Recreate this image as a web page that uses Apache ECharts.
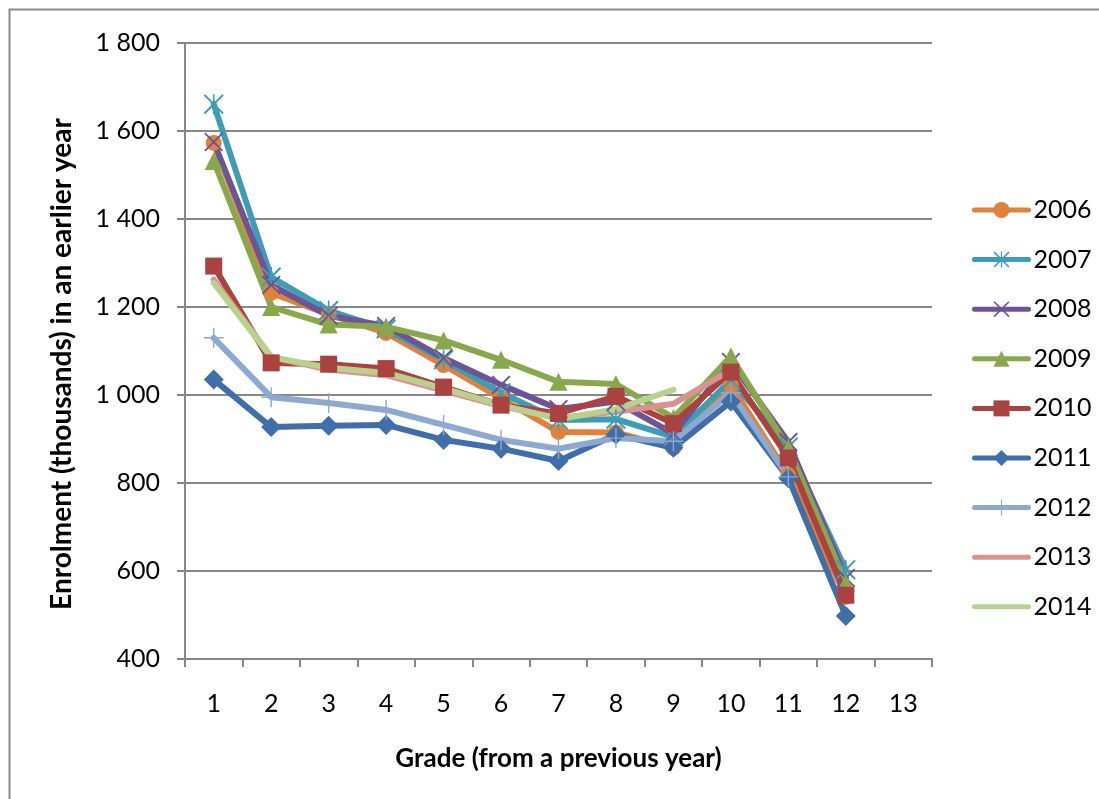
<!DOCTYPE html>
<html>
<head>
<meta charset="utf-8">
<title>Enrolment by grade</title>
<script src="https://cdn.jsdelivr.net/npm/echarts@6/dist/echarts.min.js"></script>
<style>
  html, body { margin: 0; padding: 0; background: #ffffff; }
  #chart { width: 1099px; height: 799px; }
</style>
</head>
<body>
<div id="chart"></div>
<script>
// Grades on the category axis
const grades = ['1', '2', '3', '4', '5', '6', '7', '8', '9', '10', '11', '12', '13'];

// Enrolment (thousands) per grade, one array per year
const y2006 = [1573, 1232, 1183, 1141, 1068, 992, 916, 915, 880, 1023, 818, 541];
const y2007 = [1661, 1268, 1192, 1150, 1080, 1005, 943, 945, 905, 1034, 882, 603];
const y2008 = [1575, 1250, 1180, 1157, 1084, 1023, 968, 985, 912, 1075, 893, 584];
const y2009 = [1532, 1200, 1160, 1155, 1124, 1080, 1030, 1025, 948, 1088, 880, 573];
const y2010 = [1293, 1073, 1070, 1060, 1018, 977, 958, 997, 935, 1052, 857, 545];
const y2011 = [1035, 927, 930, 932, 898, 878, 850, 910, 880, 985, 811, 498];
const y2012 = [1130, 995, 982, 966, 932, 898, 878, 902, 895, 1005, 814];
const y2013 = [1262, 1086, 1058, 1045, 1010, 975, 948, 962, 980, 1057];
const y2014 = [1255, 1086, 1062, 1050, 1015, 977, 945, 968, 1012];

const seriesNames = ['2006', '2007', '2008', '2009', '2010', '2011', '2012', '2013', '2014'];
const seriesData = [y2006, y2007, y2008, y2009, y2010, y2011, y2012, y2013, y2014];

// Y axis range
const yMin = 400, yMax = 1800, yStep = 200;

// Marker shapes drawn as filled outlines
const SYM_X = 'path://M0,1.4 L1.4,0 L20,18.6 L18.6,20 Z M18.6,0 L20,1.4 L1.4,20 L0,18.6 Z';
const SYM_STAR = SYM_X + ' M9.2,0 L10.8,0 L10.8,20 L9.2,20 Z';
const SYM_PLUS = 'path://M9.3,0 L10.7,0 L10.7,20 L9.3,20 Z M0,9.3 L20,9.3 L20,10.7 L0,10.7 Z';

const styles = [
  { color: '#E0813C', symbol: 'circle', size: 16 },
  { color: '#3D9DB5', symbol: SYM_STAR, size: 20 },
  { color: '#6D5495', symbol: SYM_X, size: 19 },
  { color: '#88A84B', symbol: 'triangle', size: 18 },
  { color: '#AA4340', symbol: 'rect', size: 17 },
  { color: '#3F6EA8', symbol: 'diamond', size: 20 },
  { color: '#8EA9D0', symbol: SYM_PLUS, size: 20 },
  { color: '#D9928F', symbol: 'none', size: 0 },
  { color: '#B9D18E', symbol: 'none', size: 0 }
];

const FONT = 'Lato, "Open Sans", sans-serif';

function thousands(v) {
  return String(v).replace(/\B(?=(\d{3})+(?!\d))/g, ' ');
}

const series = seriesNames.map((name, i) => ({
  name: name,
  type: 'line',
  data: seriesData[i],
  symbol: styles[i].symbol,
  symbolSize: styles[i].size,
  showSymbol: styles[i].symbol !== 'none',
  color: styles[i].color,
  lineStyle: { width: 6, color: styles[i].color, cap: 'round', join: 'round' },
  itemStyle: { color: styles[i].color },
  emphasis: { disabled: true },
  animation: false
}));

// Legend entries; plain-line years hide the marker
const legendData = seriesNames.map((name, i) =>
  styles[i].symbol === 'none'
    ? { name: name, itemStyle: { opacity: 0 } }
    : { name: name }
);

const chart = echarts.init(document.getElementById('chart'), null, { renderer: 'canvas' });
chart.setOption({
  backgroundColor: '#ffffff',
  animation: false,
  graphic: [{
    type: 'rect',
    shape: { x: 9.5, y: 9.5, width: 1200, height: 900 },
    style: { fill: 'none', stroke: '#8a8a8a', lineWidth: 2 },
    silent: true
  }],
  grid: { left: 185, right: 167, top: 43, bottom: 140, containLabel: false },
  legend: {
    orient: 'vertical',
    left: 967,
    top: 190,
    itemWidth: 54,
    itemHeight: 20,
    itemGap: 19.6,
    itemTextGap: 4,
    selectedMode: false,
    lineStyle: { width: 5 },
    textStyle: { fontFamily: FONT, fontSize: 25, color: '#000000', lineHeight: 30 },
    data: legendData
  },
  xAxis: {
    type: 'category',
    data: grades,
    boundaryGap: true,
    name: 'Grade (from a previous year)',
    nameLocation: 'middle',
    nameGap: 87,
    nameTextStyle: { fontFamily: FONT, fontSize: 26, fontWeight: 'bold', color: '#000000' },
    axisLine: { lineStyle: { color: '#878787', width: 2 } },
    axisTick: { show: true, length: 8, inside: false, lineStyle: { color: '#878787', width: 2 } },
    axisLabel: { fontFamily: FONT, fontSize: 25, color: '#000000', margin: 32 },
    splitLine: { show: false }
  },
  yAxis: {
    type: 'value',
    min: yMin,
    max: yMax,
    interval: yStep,
    name: 'Enrolment (thousands) in an earlier year',
    nameLocation: 'middle',
    nameGap: 109,
    nameRotate: 90,
    nameTextStyle: {
      fontFamily: FONT, fontSize: 28, fontWeight: 'bold', color: '#000000',
      padding: [0, 26, 0, 0]
    },
    axisLine: { show: true, lineStyle: { color: '#878787', width: 2 } },
    axisTick: { show: true, length: 8, inside: false, lineStyle: { color: '#878787', width: 2 } },
    axisLabel: { fontFamily: FONT, fontSize: 25, color: '#000000', margin: 25, formatter: thousands },
    splitLine: { show: true, lineStyle: { color: '#878787', width: 2 } }
  },
  series: series
});
</script>
</body>
</html>
